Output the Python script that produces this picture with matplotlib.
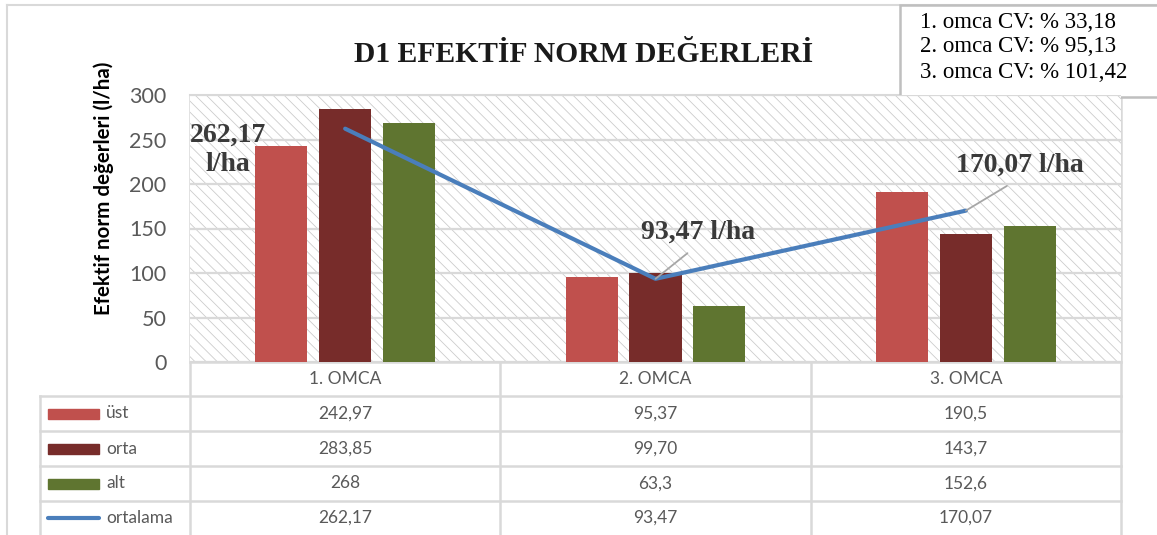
import numpy as np
import matplotlib
matplotlib.use("Agg")
import matplotlib.pyplot as plt
from matplotlib.patches import Rectangle

# ---------- data ----------
categories = ["1. OMCA", "2. OMCA", "3. OMCA"]
ust = [242.97, 95.37, 190.5]
orta = [283.85, 99.70, 143.7]
alt = [268, 63.3, 152.6]
ortalama = [262.17, 93.47, 170.07]
series_names = ["üst", "orta", "alt", "ortalama"]
table_text = [
    ["242,97", "95,37", "190,5"],
    ["283,85", "99,70", "143,7"],
    ["268", "63,3", "152,6"],
    ["262,17", "93,47", "170,07"],
]
cv_lines = ["1. omca CV: % 33,18", "2. omca CV: % 95,13", "3. omca CV: % 101,42"]
yticks = [0, 50, 100, 150, 200, 250, 300]

# ---------- style ----------
W, H = 1157, 535
C_UST = "#C0504D"
C_ORTA = "#772C2A"
C_ALT = "#5F7530"
C_LINE = "#4A7EBB"
GRID = "#d9d9d9"
TXT = "#595959"
SERIF = "Liberation Serif"
SANS = "Lato"

L, R, TOP, BOT = 190, 1121, 95, 362   # plot area in pixels
catw = (R - L) / 3

plt.rcParams["hatch.linewidth"] = 0.6

fig = plt.figure(figsize=(W / 100, H / 100), dpi=100)
fig.patch.set_facecolor("white")

# overlay in pixel coords (y down)
ov = fig.add_axes([0, 0, 1, 1], zorder=0)
ov.set_xlim(0, W)
ov.set_ylim(H, 0)
ov.set_axis_off()

ax = fig.add_axes([L / W, (H - BOT) / H, (R - L) / W, (BOT - TOP) / H], zorder=1)
ax.patch.set_alpha(0)

x = np.arange(len(categories))
bw = 0.168
off = 0.206

# hatched background
ax.add_patch(Rectangle((0, 0), 1, 1, transform=ax.transAxes, facecolor="white",
                       edgecolor="#cccccc", hatch="\\\\\\", lw=0, zorder=0))
for t in yticks:
    ax.axhline(t, color=GRID, lw=1.6, zorder=1)

ax.bar(x - off, ust, bw, color=C_UST, zorder=2)
ax.bar(x, orta, bw, color=C_ORTA, zorder=2)
ax.bar(x + off, alt, bw, color=C_ALT, zorder=2)
ax.plot(x, ortalama, color=C_LINE, lw=3, solid_capstyle="round", zorder=3)

ax.set_xlim(-0.5, 2.5)
ax.set_ylim(0, 300)
ax.set_xticks([])
ax.set_yticks(yticks)
ax.set_yticklabels([str(t) for t in yticks], family=SANS, fontsize=15.5, color=TXT)
ax.tick_params(axis="y", length=0, pad=17)
for s in ax.spines.values():
    s.set_visible(False)

# data labels on the average line
lab_kw = dict(family=SERIF, weight="bold", fontsize=20, color="#3a3a3a",
              ha="center", va="center", zorder=5)
ax.annotate("262,17\nl/ha", xy=(x[0], ortalama[0]), xytext=(-117, -21),
            textcoords="offset pixels", linespacing=1.25, **lab_kw)
ax.annotate("93,47 l/ha", xy=(x[1], ortalama[1]), xytext=(43, 47),
            textcoords="offset pixels",
            arrowprops=dict(arrowstyle="-", color="#a6a6a6", lw=1.3,
                            shrinkA=7, shrinkB=0, relpos=(0.5, 0)), **lab_kw)
ax.annotate("170,07 l/ha", xy=(x[2], ortalama[2]), xytext=(54, 45),
            textcoords="offset pixels",
            arrowprops=dict(arrowstyle="-", color="#a6a6a6", lw=1.3,
                            shrinkA=7, shrinkB=0, relpos=(0.5, 0)), **lab_kw)

# chart border
ov.plot([7, W], [5, 5], color=GRID, lw=1.5)
ov.plot([7, 7], [5, H], color=GRID, lw=1.5)

# title and axis label
ov.text(584, 54, "D1 EFEKTİF NORM DEĞERLERİ", family=SERIF, weight="bold",
        fontsize=21.3, ha="center", va="center", color="#1a1a1a")
ov.text(104, 188, "Efektif norm değerleri (l/ha)", family=SANS, weight="bold",
        fontsize=14.8, rotation=90, ha="center", va="center", color="black")

# data table
rows_y = [362, 396, 431, 466, 501, H]
ov.plot([L, R], [TOP, TOP], color=GRID, lw=1.5)
for i in range(4):
    xb = L + i * catw
    ov.plot([xb, xb], [TOP, H], color=GRID, lw=1.8, zorder=0.5)
for y in rows_y[1:-1]:
    ov.plot([40, R], [y, y], color=GRID, lw=1.8)
ov.plot([L, R], [rows_y[0], rows_y[0]], color=GRID, lw=1.8)
ov.plot([40, 40], [rows_y[1], H], color=GRID, lw=1.8)

for j, cat in enumerate(categories):
    ov.text(L + (j + 0.5) * catw, (rows_y[0] + rows_y[1]) / 2, cat,
            family=SANS, fontsize=12.5, color=TXT, ha="center", va="center")

colors = [C_UST, C_ORTA, C_ALT, C_LINE]
for i, name in enumerate(series_names):
    yc = (rows_y[i + 1] + rows_y[i + 2]) / 2
    if i < 3:
        ov.add_patch(Rectangle((48, yc - 5), 51, 10, color=colors[i]))
    else:
        ov.plot([48, 99], [yc, yc], color=C_LINE, lw=3, solid_capstyle="round")
    ov.text(106, yc, name, family=SANS, fontsize=12.5, color=TXT,
            ha="left", va="center")
    for j in range(3):
        ov.text(L + (j + 0.5) * catw, yc, table_text[i][j], family=SANS,
                fontsize=12.5, color=TXT, ha="center", va="center")

# CV box
ov.add_patch(Rectangle((900, 5), 270, 92, facecolor="white", edgecolor="#bfbfbf",
                       lw=1.8, zorder=3))
for k, line in enumerate(cv_lines):
    ov.text(920, 22 + k * 25, line, family=SERIF, fontsize=16.5, color="black",
            ha="left", va="center", zorder=4)

fig.savefig("out.png", dpi=100, facecolor="white")
